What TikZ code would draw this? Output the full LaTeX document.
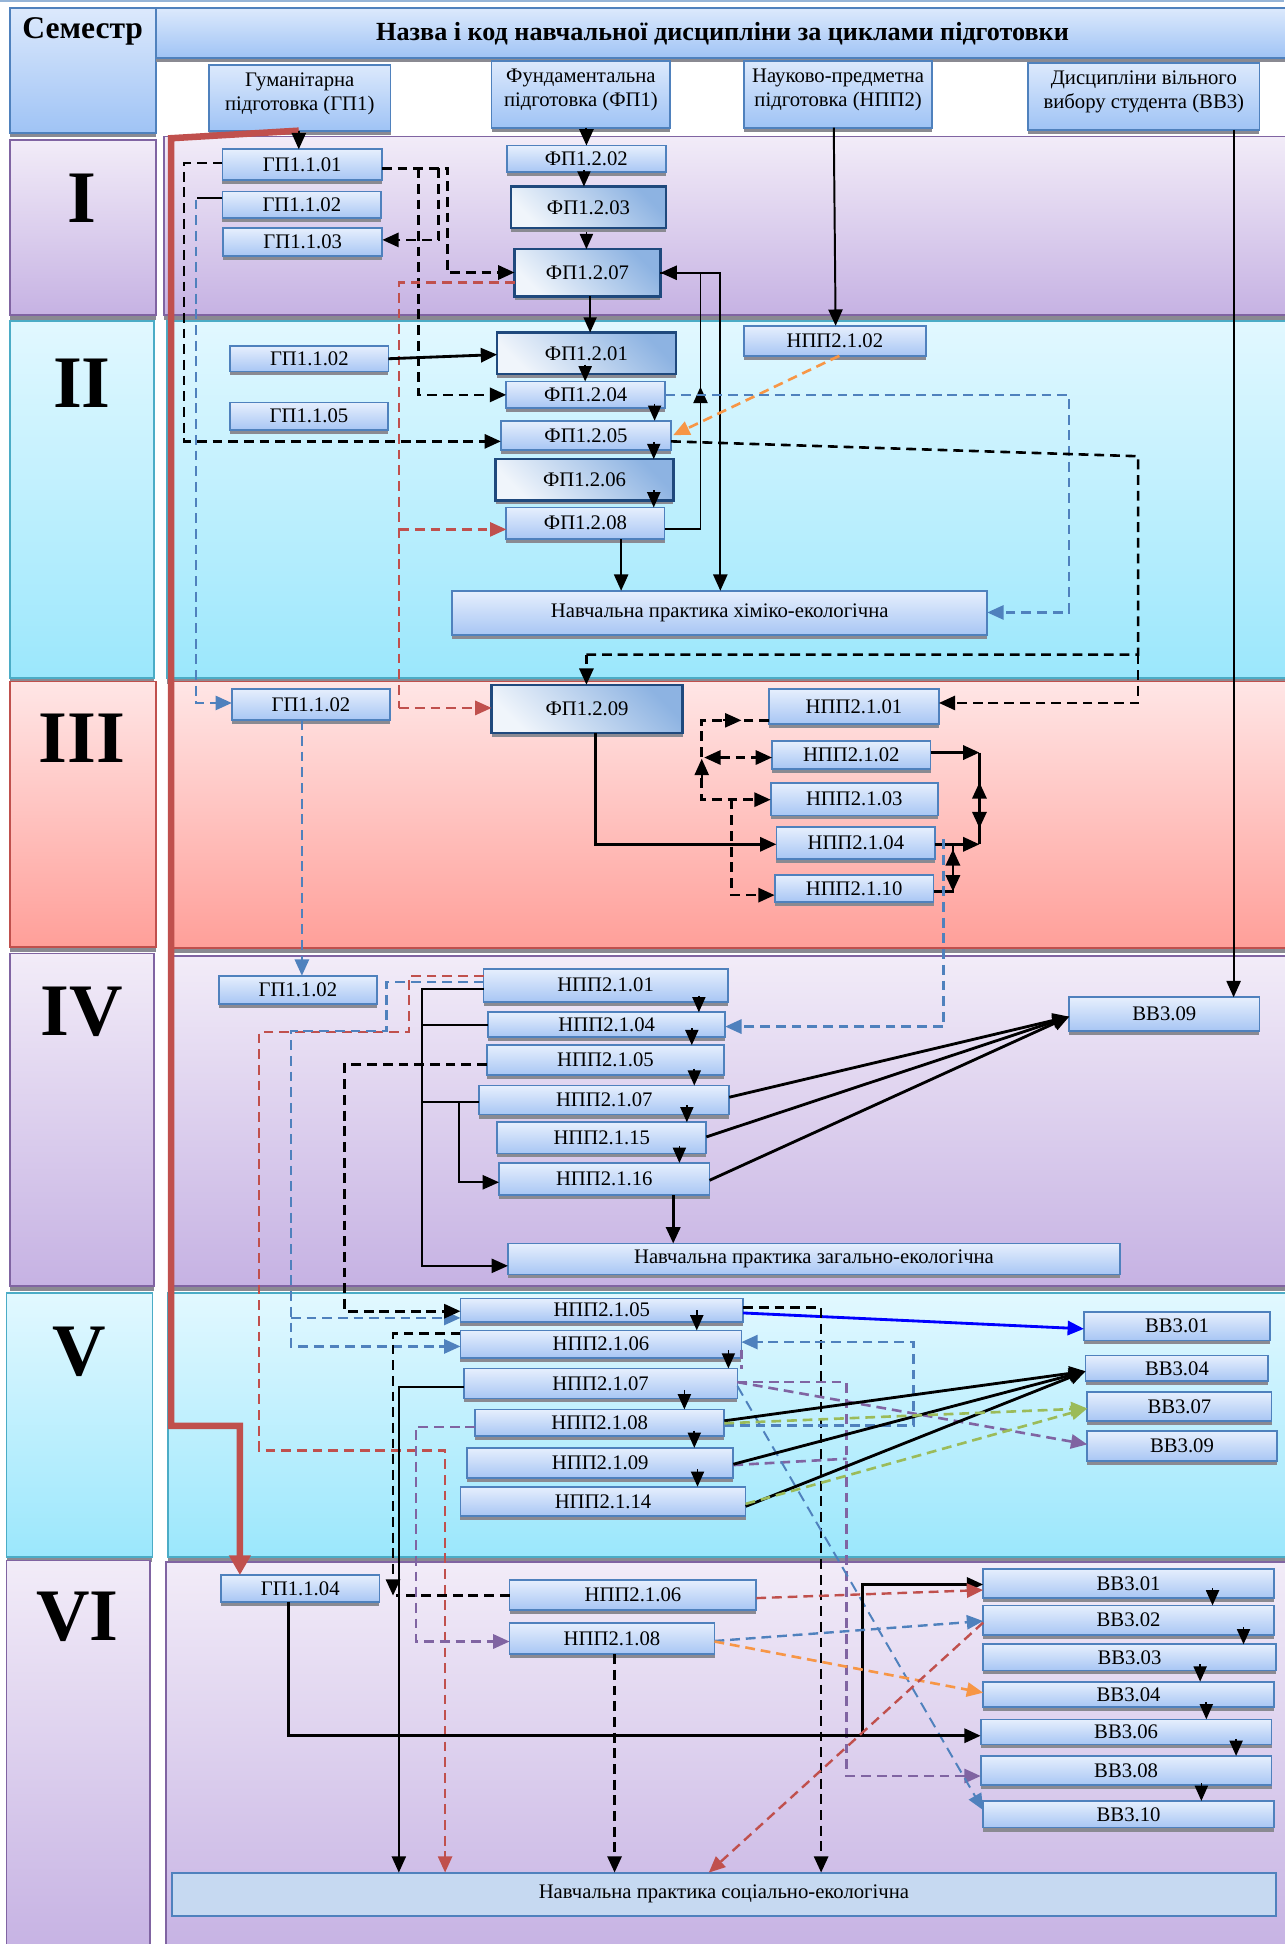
\documentclass[tikz,border=0pt]{standalone}
\usepackage{fontspec}
\setmainfont{Liberation Serif}
\usetikzlibrary{arrows.meta,shadows}
\definecolor{bxtop}{HTML}{E6EFFD}
\definecolor{bxbot}{HTML}{A8C6F4}
\definecolor{bxborder}{HTML}{4F81BD}
\definecolor{dkborder}{HTML}{1F497D}
\definecolor{dktop}{HTML}{8DB3E2}
\definecolor{dkbot}{HTML}{F0F5FB}
\definecolor{hdtop}{HTML}{DCE9FC}
\definecolor{hdbot}{HTML}{9FC3F5}
\definecolor{purtop}{HTML}{F2ECF8}
\definecolor{purbot}{HTML}{C6B2E3}
\definecolor{purborder}{HTML}{8064A2}
\definecolor{cyntop}{HTML}{E2F8FF}
\definecolor{cynbot}{HTML}{9BE7FC}
\definecolor{cynborder}{HTML}{4BACC6}
\definecolor{redtop}{HTML}{FFE6E6}
\definecolor{redbot}{HTML}{FF9F99}
\definecolor{redborder}{HTML}{C0504D}
\definecolor{lnred}{HTML}{C0504D}
\definecolor{lnblue}{HTML}{4F81BD}
\definecolor{lnpur}{HTML}{8064A2}
\definecolor{lnorg}{HTML}{F79646}
\definecolor{lngrn}{HTML}{9BBB59}
\definecolor{practfill}{HTML}{C6D9F1}
\definecolor{shadowc}{HTML}{8A8A92}
\newcommand{\bxn}[7][bx]{\node[#1,minimum width={(#5-#3)*0.02cm},minimum height={(#6-#4)*0.02cm}] (#2) at ({(#3+#5)/2},{(#4+#6)/2}) {#7};}
\newcommand{\chn}[3]{\draw[chn] (#1,#2) -- (#3.north -| #1,0);}
\begin{document}
\begin{tikzpicture}[x=0.02cm,y=-0.02cm,
  shd/.style={drop shadow={shadow xshift=0pt,shadow yshift=-1.8pt,fill=shadowc,opacity=1}},
  bx/.style={draw=bxborder,line width=0.8pt,top color=bxtop,bottom color=bxbot,inner sep=0pt,outer sep=0pt,
    font=\fontsize{9.5}{11}\selectfont,shd},
  dkbx/.style={bx,draw=dkborder,line width=1.1pt,top color=dktop,bottom color=dkbot,shading angle=-45},
  hdr/.style={bx,top color=hdtop,bottom color=hdbot},
  cat/.style={hdr,align=center,text depth=6pt},
  socbx/.style={draw=bxborder,line width=1pt,fill=practfill,inner sep=0pt,outer sep=0pt,font=\fontsize{9.5}{11}\selectfont},
  bandp/.style={draw=purborder,line width=0.8pt,top color=purtop,bottom color=purbot,drop shadow={shadow xshift=0pt,shadow yshift=-2.5pt,fill=shadowc,opacity=1}},
  bandc/.style={draw=cynborder,line width=0.8pt,top color=cyntop,bottom color=cynbot,drop shadow={shadow xshift=0pt,shadow yshift=-2.5pt,fill=shadowc,opacity=1}},
  bandr/.style={draw=redborder,line width=0.8pt,top color=redtop,bottom color=redbot,drop shadow={shadow xshift=0pt,shadow yshift=-2.5pt,fill=shadowc,opacity=1}},
  roman/.style={font=\fontsize{34}{34}\bfseries\selectfont,inner sep=0pt},
  arw/.style={-{Triangle[length=7.5pt,width=6.5pt]}},
  chn/.style={line width=0.8pt,-{Triangle[length=7pt,width=6pt]}},
  solidk/.style={draw=black,line width=0.9pt},
  thickk/.style={draw=black,line width=1.3pt},
  dashk/.style={draw=black,line width=1.2pt,dash pattern=on 4.5pt off 2.7pt},
  dashb/.style={draw=lnblue,line width=1.1pt,dash pattern=on 4.5pt off 2.7pt},
  dashbthin/.style={draw=lnblue,line width=0.9pt,dash pattern=on 5pt off 3pt},
  dashr/.style={draw=lnred,line width=1.1pt,dash pattern=on 4.5pt off 2.7pt},
  dashp/.style={draw=lnpur,line width=1.2pt,dash pattern=on 4.5pt off 2.7pt},
  dasho/.style={draw=lnorg,line width=1.2pt,dash pattern=on 4.5pt off 2.7pt},
  dashg/.style={draw=lngrn,line width=1.2pt,dash pattern=on 4.5pt off 2.7pt},
  blueline/.style={draw=blue,line width=1.3pt},
  redthick/.style={draw=lnred,line width=3pt,-{Triangle[length=9pt,width=9.5pt]}}
]
\useasboundingbox (0,0) rectangle (1036,1568);
\fill[white] (0,0) rectangle (1036,1568);
\fill[bxborder!60] (0,0) rectangle (1036,2);
% semester bands
\path[bandp] (8,113) rectangle (125.6,254);
\path[bandp] (132.5,110) rectangle (1040,254);
\path[bandc] (8,259) rectangle (124.2,546.7);
\path[bandc] (134.5,259) rectangle (1040,547);
\path[bandr] (8,549.6) rectangle (125.6,763.6);
\path[bandr] (137.5,549.6) rectangle (1040,764.4);
\path[bandp] (8,769) rectangle (124.2,1037);
\path[bandp] (137.5,770.8) rectangle (1040,1037);
\path[bandc] (5.3,1042.8) rectangle (123,1255.6);
\path[bandc] (135.5,1042.8) rectangle (1040,1255.6);
\path[bandp] (5.3,1258.6) rectangle (121,1575);
\path[bandp] (134,1260) rectangle (1040,1575);
\node[roman] (sI) at (66,159.7) {I};
\node[roman] (sII) at (66,309) {II};
\node[roman] (sIII) at (66,595.6) {III};
\node[roman] (sIV) at (66,816) {IV};
\node[roman] (sV) at (64,1090) {V};
\node[roman] (sVI) at (62.6,1304) {VI};
% header
\bxn[hdr]{hsem}{7.9}{6.7}{125.6}{107.5}{}
\node[font=\fontsize{14.5}{16}\bfseries\selectfont] (hsemt) at (66.7,25.5) {Семестр};
\bxn[hdr,font=\fontsize{12}{14}\bfseries\selectfont]{htitle}{125.6}{6.7}{1040}{47}{Назва і код навчальної дисципліни за циклами підготовки}
\bxn[cat]{cgp}{168.5}{52.4}{315}{105.4}{Гуманітарна\\підготовка (ГП1)}
\bxn[cat]{cfp}{396.5}{49.2}{540.6}{103}{Фундаментальна\\підготовка (ФП1)}
\bxn[cat]{cnpp}{600}{49.2}{752}{103}{Науково-предметна\\підготовка (НПП2)}
\bxn[cat]{cvv}{829.4}{51}{1015.8}{104.8}{Дисципліни вільного\\вибору студента (ВВ3)}
% semester I
\bxn{g101}{179.4}{120.4}{308.1}{145.1}{ГП1.1.01}
\bxn{g102a}{179.4}{154.5}{307.5}{176}{ГП1.1.02}
\bxn{g103}{180}{184}{308.4}{206.4}{ГП1.1.03}
\bxn{f202}{408.8}{117.4}{537}{139}{ФП1.2.02}
\bxn[dkbx]{f203}{412.3}{150.5}{537}{184}{ФП1.2.03}
\bxn[dkbx]{f207}{415}{201}{532.7}{239.2}{ФП1.2.07}
% semester II
\bxn{g102b}{185.7}{279}{313.3}{299.7}{ГП1.1.02}
\bxn{g105}{185.7}{324.7}{312.8}{346.7}{ГП1.1.05}
\bxn[dkbx]{f201}{401}{268.2}{545}{301.8}{ФП1.2.01}
\bxn{f204}{408.3}{307.7}{536.5}{329.2}{ФП1.2.04}
\bxn{f205}{404}{339.4}{541.3}{362.8}{ФП1.2.05}
\bxn[dkbx]{f206}{399.8}{370.3}{543.2}{403.7}{ФП1.2.06}
\bxn{f208}{408.4}{409.3}{536}{434.8}{ФП1.2.08}
\bxn{n102b}{600}{262.8}{746.8}{287}{НПП2.1.02}
\bxn{prhim}{364.8}{476.5}{796.3}{512}{Навчальна практика хіміко-екологічна}
% semester III
\bxn{g102c}{187}{555.5}{314.5}{581}{ГП1.1.02}
\bxn[dkbx]{f209}{396.5}{552.3}{550.5}{591.3}{ФП1.2.09}
\bxn{n101c}{620.3}{555.8}{757.3}{583.7}{НПП2.1.01}
\bxn{n102c}{622.7}{597.4}{750.6}{620}{НПП2.1.02}
\bxn{n103c}{621.6}{631.6}{756.5}{657.7}{НПП2.1.03}
\bxn{n104c}{626.2}{667.3}{754.4}{692.6}{НПП2.1.04}
\bxn{n110c}{624.8}{705.5}{753}{727.5}{НПП2.1.10}
% semester IV
\bxn{g102d}{176.5}{787}{304}{809.7}{ГП1.1.02}
\bxn{n101d}{390}{781.3}{586.9}{808}{НПП2.1.01}
\bxn{n104d}{393.9}{816.5}{584.9}{836.4}{НПП2.1.04}
\bxn{n105d}{392.6}{843}{584.2}{867.3}{НПП2.1.05}
\bxn{n107d}{386.6}{875.6}{588.2}{899}{НПП2.1.07}
\bxn{n115d}{401.1}{905.2}{569.7}{930.4}{НПП2.1.15}
\bxn{n116d}{402.5}{938}{572.3}{964}{НПП2.1.16}
\bxn{v309d}{862.4}{804.4}{1015.8}{831.3}{ВВ3.09}
\bxn{przag}{409.7}{1003}{903.4}{1028}{Навчальна практика загально-екологічна}
% semester V
\bxn{n105e}{371.4}{1047.3}{599.4}{1066.1}{НПП2.1.05}
\bxn{n106e}{371.4}{1073.1}{598}{1095.2}{НПП2.1.06}
\bxn{n107e}{374}{1103.8}{594.8}{1128}{НПП2.1.07}
\bxn{n108e}{383.3}{1136.8}{584.2}{1158.3}{НПП2.1.08}
\bxn{n109e}{376.7}{1167.8}{591.5}{1191.9}{НПП2.1.09}
\bxn{n114e}{371.4}{1199.2}{601.4}{1222.8}{НПП2.1.14}
\bxn{v301e}{874.3}{1058}{1024.4}{1081.2}{ВВ3.01}
\bxn{v304e}{875.6}{1093.3}{1023}{1114}{ВВ3.04}
\bxn{v307e}{877}{1122.8}{1025.6}{1146.3}{ВВ3.07}
\bxn{v309e}{877}{1154.3}{1029.7}{1178.5}{ВВ3.09}
% semester VI
\bxn{g104f}{178.4}{1270.4}{306}{1291.9}{ГП1.1.04}
\bxn{n106f}{411}{1274.4}{610}{1298.6}{НПП2.1.06}
\bxn{n108f}{411}{1308.8}{576.3}{1334.3}{НПП2.1.08}
\bxn{v301f}{793}{1265.3}{1027.6}{1289.2}{ВВ3.01}
\bxn{v302f}{793}{1294.9}{1027.6}{1318.8}{ВВ3.02}
\bxn{v303f}{793}{1326.3}{1029}{1347.3}{ВВ3.03}
\bxn{v304f}{793}{1356.4}{1027.6}{1376.8}{ВВ3.04}
\bxn{v306f}{791}{1386.8}{1025.6}{1407}{ВВ3.06}
\bxn{v308f}{791}{1416.3}{1025.6}{1440}{ВВ3.08}
\bxn{v310f}{793}{1452.6}{1027.6}{1474.1}{ВВ3.10}
\bxn[socbx]{prsoc}{138.8}{1510.4}{1029}{1545.4}{Навчальна практика соціально-екологічна}
% red thick line
\draw[redthick] (cgp.south -| 241,0) -- (138,111.5) -- (138,1150) -- (193.5,1150) -- (g104f.north -| 193.5,0);
% ---- semester I connectors
\draw[solidk,arw] (cgp.south -| 241,0) -- (g101.north -| 241,0);
\draw[solidk,arw] (cfp.south -| 473,0) -- (f202.north -| 473,0);
\draw[solidk,arw] (cnpp.south -| 672.5,0) -- (n102b.north -| 674,0);
\draw[solidk,arw] (cvv.south -| 995,0) -- (v309d.north -| 995,0);
\chn{471}{137}{f203}
\chn{473}{187}{f207}
\chn{476}{239}{f201}
\draw[dashk,arw] (g101.west |- 0,131.5) -- (148.5,131.5) -- (148.5,356) -- (f205.west |- 0,356);
\draw[dashk,arw] (g101.east |- 0,135.7) -- (360.8,135.7) -- (360.8,219.8) -- (f207.west |- 0,219.8);
\draw[dashk,arw] (337.7,135.7) -- (337.7,318.5) -- (f204.west |- 0,318.5);
\draw[dashk,arw] (353.6,135.7) -- (353.6,193.5) -- (g103.east |- 0,193.5);
\draw[solidk] (g102a.west |- 0,159.5) -- (159,159.5);
\draw[dashb,arw] (158,161) -- (158,567) -- (g102c.west |- 0,567);
\draw[dashr] (f207.west |- 0,228) -- (322,228) -- (322,571);
\draw[dashr,arw] (322,571) -- (f209.west |- 0,571);
\draw[dashr,arw] (322,427) -- (f208.west |- 0,427);
% ---- semester II connectors
\chn{472}{294}{f204}
\chn{528}{325.5}{f205}
\chn{527.3}{356.5}{f206}
\chn{527.3}{395.5}{f208}
\draw[solidk,arw] (f208.east |- 0,427) -- (565,427) -- (565,220) -- (f207.east |- 0,220);
\draw[solidk,arw] (565,334) -- (565,312);
\draw[solidk,arw] (f207.east |- 0,220) -- (581,220) -- (prhim.north -| 581,0);
\draw[solidk,arw] (f208.south -| 501,0) -- (prhim.north -| 501,0);
\draw[thickk,arw] (g102b.east) -- (f201.west |- 0,286);
\draw[dasho,arw] (n102b.south -| 677,0) -- (543,351);
\draw[dashb,arw] (f204.east |- 0,318.5) -- (862,318.5) -- (862,494) -- (prhim.east |- 0,494);
\draw[dashk] (f205.east |- 0,356) -- (918,368) -- (918,528) -- (473,528);
\draw[dashk,arw] (473,528) -- (f209.north -| 473,0);
\draw[dashk,arw] (918,528) -- (918,567) -- (n101c.east |- 0,567);
% ---- semester III connectors
\draw[dashb,arw] (g102c.south -| 243.5,0) -- (g102d.north -| 243.5,0);
\draw[thickk,arw] (f209.south -| 480.5,0) -- (480.5,681) -- (n104c.west |- 0,681);
\draw[dashk,arw] (n101c.west |- 0,581) -- (566,581) -- (566,645) -- (n103c.west |- 0,645);
\draw[solidk,arw] (583,581) -- (598,581);
\draw[dashk,{Triangle[length=7.5pt,width=6.5pt]}-{Triangle[length=7.5pt,width=6.5pt]}] (568,611) -- (n102c.west |- 0,611);
\draw[solidk,arw] (566,630) -- (566,612);
\draw[dashk,arw] (590,645) -- (590,722) -- (n110c.west |- 0,722);
\draw[thickk,arw] (n102c.east |- 0,607) -- (790,607);
\draw[thickk] (790,607) -- (790,681);
\draw[thickk,arw] (n104c.east |- 0,681) -- (790,681);
\draw[thickk,arw] (790,648) -- (790,631);
\draw[thickk,arw] (790,650) -- (790,668);
\draw[thickk] (768.6,681) -- (768.6,719) -- (n110c.east |- 0,719);
\draw[thickk,arw] (768.6,701) -- (768.6,685);
\draw[thickk,arw] (768.6,703) -- (768.6,719);
\draw[dashb,arw] (761,677) -- (761,828) -- (n104d.east |- 0,828);
% ---- semester IV connectors
\chn{563.7}{803}{n104d}
\chn{558}{829.5}{n105d}
\chn{560}{862}{n107d}
\chn{554}{891.5}{n115d}
\chn{548}{924.5}{n116d}
\draw[solidk,arw] (n101d.west |- 0,797.5) -- (340,797.5) -- (340,1021) -- (przag.west |- 0,1021);
\draw[solidk] (340,827) -- (n104d.west |- 0,827);
\draw[solidk] (340,888.7) -- (n107d.west |- 0,888.7);
\draw[solidk,arw] (370,888.7) -- (370,953.6) -- (n116d.west |- 0,953.6);
\draw[dashr,arw] (n101d.west |- 0,787) -- (330,787) -- (330,832.6) -- (209,832.6) -- (209,1170) -- (359,1170) -- (prsoc.north -| 359,0);
\draw[dashb,arw] (n101d.west |- 0,792) -- (311.8,792) -- (311.8,831.8) -- (234.6,831.8) -- (234.6,1086) -- (n106e.west |- 0,1086);
\draw[dashb,arw] (234.6,1063) -- (n105e.west |- 0,1063);
\draw[dashk,arw] (n105d.west |- 0,858.7) -- (278,858.7) -- (278,1057.6) -- (n105e.west |- 0,1057.6);
\draw[thickk,arw] (n107d.east |- 0,885) -- (v309d.west |- 0,820);
\draw[thickk,arw] (n115d.east |- 0,917) -- (v309d.west |- 0,820);
\draw[thickk,arw] (n116d.east |- 0,952) -- (v309d.west |- 0,820);
\draw[thickk,arw] (n116d.south -| 543,0) -- (przag.north -| 543,0);
% ---- semester V connectors
\chn{562}{1057}{n106e}
\chn{587.5}{1089}{n107e}
\chn{552}{1121}{n108e}
\chn{560}{1154}{n109e}
\chn{562.6}{1185}{n114e}
\draw[blueline,arw] (n105e.east |- 0,1059) -- (v301e.west |- 0,1071.8);
\draw[dashk,arw] (n105e.east |- 0,1054.8) -- (662.3,1054.8) -- (prsoc.north -| 662.3,0);
\draw[dashk,arw] (n106e.west |- 0,1075.6) -- (317,1075.6) -- (317,1287);
\draw[dashk] (n106f.west |- 0,1287) -- (319,1287);
\draw[solidk,arw] (n107e.west |- 0,1118.8) -- (321.7,1118.8) -- (prsoc.north -| 321.7,0);
\draw[dashp,arw] (n108e.west |- 0,1151) -- (335.4,1151) -- (335.4,1324) -- (n108f.west |- 0,1324);
\draw[dashb,arw] (n108e.east |- 0,1149.7) -- (736.8,1149.7) -- (736.8,1082.5) -- (n106e.east |- 0,1082.5);
\draw[dashp,arw] (n107e.east |- 0,1114.8) -- (682.8,1114.8) -- (682.8,1432.5) -- (v308f.west |- 0,1432.5);
\draw[dashp,arw] (n107e.east |- 0,1114.8) -- (v309e.west |- 0,1165);
\draw[dashp] (n109e.east |- 0,1181.7) -- (682.8,1176.6);
\draw[dashp] (598,1088.5) -- (598,1104);
\draw[dashbthin,arw] (n107e.east |- 0,1118) -- (v310f.west |- 0,1460);
\draw[thickk,arw] (n108e.east |- 0,1146) -- (v304e.west |- 0,1106);
\draw[thickk,arw] (n109e.east |- 0,1181) -- (v304e.west |- 0,1106);
\draw[thickk,arw] (n114e.east |- 0,1215) -- (v304e.west |- 0,1106);
\draw[dashg,arw] (n108e.east |- 0,1148) -- (v307e.west |- 0,1136);
\draw[dashg,arw] (n114e.east |- 0,1213) -- (v307e.west |- 0,1136);
% ---- semester VI connectors
\chn{978}{1281}{v302f}
\chn{1003}{1312.5}{v303f}
\chn{968}{1342.5}{v304f}
\chn{973}{1373}{v306f}
\chn{997}{1402.5}{v308f}
\chn{969}{1438.5}{v310f}
\draw[thickk,arw] (g104f.south -| 232.6,0) -- (232.6,1400) -- (v306f.west |- 0,1400);
\draw[thickk,arw] (696,1400) -- (696,1278) -- (v301f.west |- 0,1278);
\draw[dashr,arw] (n106f.east |- 0,1289) -- (v301f.west |- 0,1282.5);
\draw[dashb,arw] (n108f.east |- 0,1323.6) -- (v302f.west |- 0,1307.5);
\draw[dasho,arw] (n108f.east |- 0,1324) -- (v304f.west |- 0,1365.3);
\draw[dashk,arw] (n108f.south -| 495.7,0) -- (prsoc.north -| 495.7,0);
\draw[dashr,arw] (v302f.west |- 0,1308.7) -- (prsoc.north -| 571.7,0);
\end{tikzpicture}
\end{document}
